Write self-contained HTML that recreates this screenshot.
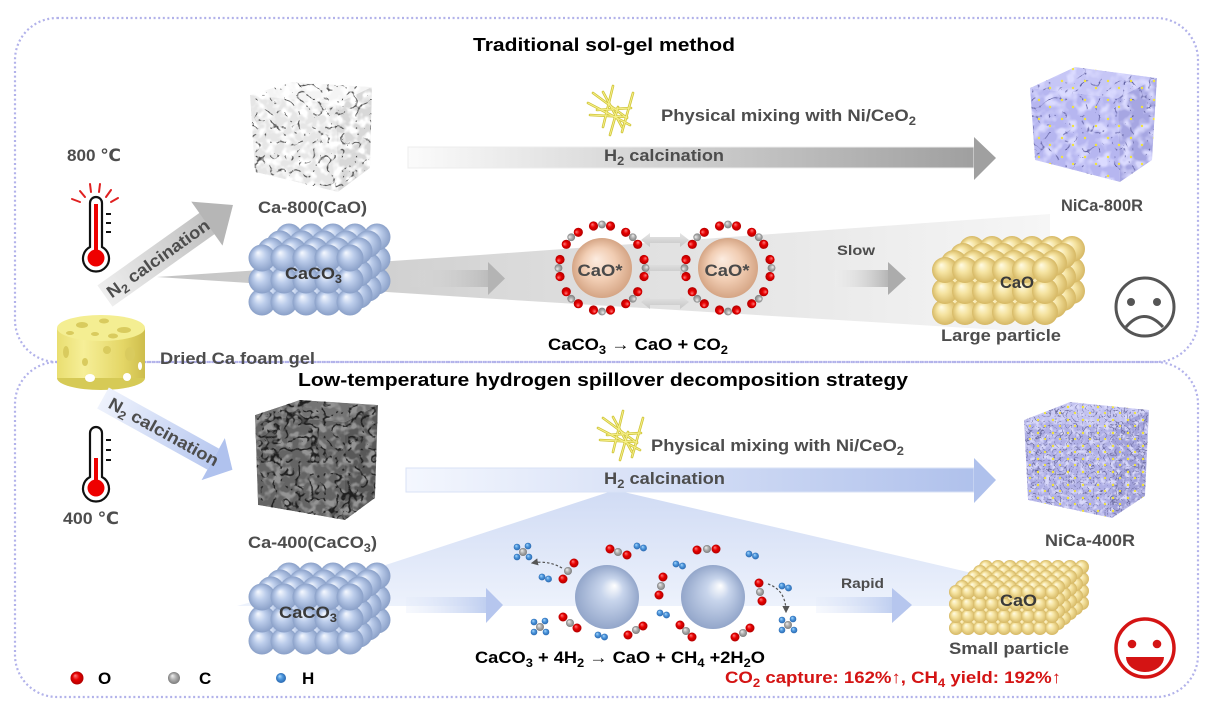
<!DOCTYPE html>
<html><head><meta charset="utf-8"><style>
html,body{margin:0;padding:0;background:#fff;}
svg{display:block;}
text{font-family:"Liberation Sans","DejaVu Sans",Arial,sans-serif;font-weight:bold;}
</style></head><body>
<svg width="1215" height="715" viewBox="0 0 1215 715" xmlns="http://www.w3.org/2000/svg">
<defs>
<radialGradient id="gSB" cx=".5" cy=".5" r=".5" fx=".35" fy=".3"><stop offset="0" stop-color="#f6f9ff"/><stop offset=".45" stop-color="#bccdeb"/><stop offset="1" stop-color="#8aa0c8"/></radialGradient>
<radialGradient id="gY" cx=".5" cy=".5" r=".5" fx=".35" fy=".3"><stop offset="0" stop-color="#fffbe4"/><stop offset=".45" stop-color="#f5e3a0"/><stop offset="1" stop-color="#d6b864"/></radialGradient>
<radialGradient id="gP" cx=".5" cy=".5" r=".5" fx=".4" fy=".35"><stop offset="0" stop-color="#fcece0"/><stop offset=".55" stop-color="#f1cdb3"/><stop offset="1" stop-color="#d5a585"/></radialGradient>
<radialGradient id="gBS" cx=".5" cy=".5" r=".5" fx=".62" fy=".32"><stop offset="0" stop-color="#ffffff"/><stop offset=".35" stop-color="#c8d5ec"/><stop offset="1" stop-color="#93a6ca"/></radialGradient>
<radialGradient id="gO" cx=".5" cy=".5" r=".5" fx=".35" fy=".3"><stop offset="0" stop-color="#ff8080"/><stop offset=".5" stop-color="#e80000"/><stop offset="1" stop-color="#b00000"/></radialGradient>
<radialGradient id="gC" cx=".5" cy=".5" r=".5" fx=".35" fy=".3"><stop offset="0" stop-color="#f2f2f2"/><stop offset=".5" stop-color="#b0b0b0"/><stop offset="1" stop-color="#7c7c7c"/></radialGradient>
<radialGradient id="gH" cx=".5" cy=".5" r=".5" fx=".35" fy=".3"><stop offset="0" stop-color="#b0dcff"/><stop offset=".5" stop-color="#4c96dc"/><stop offset="1" stop-color="#2a68b0"/></radialGradient>

<linearGradient id="gW1" gradientUnits="userSpaceOnUse" x1="157" y1="0" x2="480" y2="0"><stop offset="0" stop-color="#c4c4c4"/><stop offset="1" stop-color="#d6d6d6"/></linearGradient>
<linearGradient id="gW2" gradientUnits="userSpaceOnUse" x1="480" y1="0" x2="1050" y2="0"><stop offset="0" stop-color="#d8d8d8"/><stop offset="1" stop-color="#f6f6f6"/></linearGradient>
<linearGradient id="gBW" gradientUnits="userSpaceOnUse" x1="0" y1="490" x2="0" y2="606"><stop offset="0" stop-color="#d0dbf4"/><stop offset="1" stop-color="#edf2fc"/></linearGradient>
<linearGradient id="gH1" gradientUnits="userSpaceOnUse" x1="408" y1="0" x2="996" y2="0"><stop offset="0" stop-color="#fbfbfb"/><stop offset="1" stop-color="#9c9c9c"/></linearGradient>
<linearGradient id="gH2" gradientUnits="userSpaceOnUse" x1="406" y1="0" x2="996" y2="0"><stop offset="0" stop-color="#f4f7fe"/><stop offset="1" stop-color="#adbfeb"/></linearGradient>
<linearGradient id="gGA" gradientUnits="userSpaceOnUse" x1="406" y1="0" x2="488" y2="0"><stop offset="0" stop-color="#dcdcdc" stop-opacity="0"/><stop offset="1" stop-color="#bcbcbc"/></linearGradient>
<linearGradient id="gSA" gradientUnits="userSpaceOnUse" x1="835" y1="0" x2="888" y2="0"><stop offset="0" stop-color="#eeeeee" stop-opacity=".3"/><stop offset="1" stop-color="#b6b6b6"/></linearGradient>
<linearGradient id="gBA" gradientUnits="userSpaceOnUse" x1="406" y1="0" x2="486" y2="0"><stop offset="0" stop-color="#e4ebfa" stop-opacity=".3"/><stop offset="1" stop-color="#c0cff0"/></linearGradient>
<linearGradient id="gRA" gradientUnits="userSpaceOnUse" x1="816" y1="0" x2="892" y2="0"><stop offset="0" stop-color="#e4ebfa" stop-opacity=".3"/><stop offset="1" stop-color="#c0cff0"/></linearGradient>
<linearGradient id="gN1" gradientUnits="userSpaceOnUse" x1="0" y1="0" x2="157" y2="0"><stop offset="0" stop-color="#eeeeee"/><stop offset="1" stop-color="#b6b6b6"/></linearGradient>
<linearGradient id="gN2" gradientUnits="userSpaceOnUse" x1="0" y1="0" x2="148" y2="0"><stop offset="0" stop-color="#eef2fc"/><stop offset="1" stop-color="#b0c2ee"/></linearGradient>
<linearGradient id="gDA" x1="0" y1="0" x2="0" y2="1"><stop offset="0" stop-color="#e6e6e6"/><stop offset="1" stop-color="#c6c6c6"/></linearGradient>
<linearGradient id="gGel" x1="0" y1="0" x2="1" y2="0"><stop offset="0" stop-color="#e9de70"/><stop offset=".3" stop-color="#f6ef98"/><stop offset=".75" stop-color="#e4d666"/><stop offset="1" stop-color="#cdbd4c"/></linearGradient>

<!-- Ca-800: light highlights + thin dark crevices -->
<filter id="fL1" x="0" y="0" width="1" height="1" color-interpolation-filters="sRGB"><feTurbulence type="fractalNoise" baseFrequency="0.12" numOctaves="2" seed="2"/><feColorMatrix type="matrix" values="0 0 0 0 1  0 0 0 0 1  0 0 0 0 1  4 0 0 0 -1.7"/></filter>
<filter id="fD1" x="0" y="0" width="1" height="1" color-interpolation-filters="sRGB"><feTurbulence type="turbulence" baseFrequency="0.07" numOctaves="2" seed="7"/><feColorMatrix type="matrix" values="0 0 0 0 .3  0 0 0 0 .3  0 0 0 0 .3  -14 0 0 0 1.3"/></filter>
<!-- NiCa-800R -->
<filter id="fL2" x="0" y="0" width="1" height="1" color-interpolation-filters="sRGB"><feTurbulence type="fractalNoise" baseFrequency="0.09" numOctaves="2" seed="4"/><feColorMatrix type="matrix" values="0 0 0 0 .86  0 0 0 0 .86  0 0 0 0 1  4 0 0 0 -1.8"/></filter>
<filter id="fD2" x="0" y="0" width="1" height="1" color-interpolation-filters="sRGB"><feTurbulence type="turbulence" baseFrequency="0.06" numOctaves="2" seed="9"/><feColorMatrix type="matrix" values="0 0 0 0 .4  0 0 0 0 .4  0 0 0 0 .65  -14 0 0 0 1.1"/></filter>
<!-- Ca-400 -->
<filter id="fL3" x="0" y="0" width="1" height="1" color-interpolation-filters="sRGB"><feTurbulence type="fractalNoise" baseFrequency="0.12" numOctaves="2" seed="11"/><feColorMatrix type="matrix" values="0 0 0 0 .58  0 0 0 0 .58  0 0 0 0 .58  5 0 0 0 -2.3"/></filter>
<filter id="fD3" x="0" y="0" width="1" height="1" color-interpolation-filters="sRGB"><feTurbulence type="turbulence" baseFrequency="0.08" numOctaves="2" seed="13"/><feColorMatrix type="matrix" values="0 0 0 0 .12  0 0 0 0 .12  0 0 0 0 .12  -10 0 0 0 1.5"/></filter>
<!-- NiCa-400R -->
<filter id="fD4" x="0" y="0" width="1" height="1" color-interpolation-filters="sRGB"><feTurbulence type="turbulence" baseFrequency="0.18" numOctaves="2" seed="17"/><feColorMatrix type="matrix" values="0 0 0 0 .38  0 0 0 0 .38  0 0 0 0 .58  -9 0 0 0 1.2"/></filter>
<filter id="fL4" x="0" y="0" width="1" height="1" color-interpolation-filters="sRGB"><feTurbulence type="fractalNoise" baseFrequency="0.2" numOctaves="2" seed="21"/><feColorMatrix type="matrix" values="0 0 0 0 .85  0 0 0 0 .85  0 0 0 0 .98  4 0 0 0 -1.8"/></filter>

<pattern id="yd1" width="23" height="19" patternUnits="userSpaceOnUse"><circle cx="4" cy="5" r="1.2" fill="#f2e43a"/><circle cx="15" cy="12" r="1.2" fill="#f2e43a"/></pattern>
<pattern id="yd2" width="15" height="13" patternUnits="userSpaceOnUse"><circle cx="3" cy="4" r="1.2" fill="#f2e43a"/><circle cx="10" cy="10" r="1.1" fill="#f2e43a"/></pattern>

<clipPath id="c1"><polygon points="250,95 292,82 372,87 370,168 338,192 255,172"/></clipPath>
<clipPath id="c2"><polygon points="1030,88 1075,67 1157,78 1152,160 1120,182 1035,160"/></clipPath>
<clipPath id="c3"><polygon points="255,415 300,400 378,405 375,498 345,520 258,505"/></clipPath>
<clipPath id="c4"><polygon points="1024,420 1070,402 1149,410 1145,496 1112,518 1028,500"/></clipPath>

<circle id="sb" r="13.5" fill="url(#gSB)"/>
<g id="bRow"><use href="#sb" x="0"/><use href="#sb" x="22"/><use href="#sb" x="44"/><use href="#sb" x="66"/><use href="#sb" x="88"/></g>
<g id="bSlab"><use href="#bRow" x="27" y="-21"/><use href="#bRow" x="18" y="-14"/><use href="#bRow" x="9" y="-7"/><use href="#bRow"/></g>
<g id="bBlock"><use href="#bSlab" y="44"/><use href="#bSlab" y="22"/><use href="#bSlab"/></g>

<circle id="sy" r="13" fill="url(#gY)"/>
<g id="yRow"><use href="#sy" x="0"/><use href="#sy" x="20"/><use href="#sy" x="40"/><use href="#sy" x="60"/><use href="#sy" x="80"/><use href="#sy" x="100"/></g>
<g id="ySlab"><use href="#yRow" x="27" y="-21"/><use href="#yRow" x="18" y="-14"/><use href="#yRow" x="9" y="-7"/><use href="#yRow"/></g>
<g id="yBlock"><use href="#ySlab" y="42"/><use href="#ySlab" y="21"/><use href="#ySlab"/></g>

<circle id="ss" r="7" fill="url(#gY)"/>
<g id="sRow"><use href="#ss" x="0"/><use href="#ss" x="12"/><use href="#ss" x="24"/><use href="#ss" x="36"/><use href="#ss" x="48"/><use href="#ss" x="60"/><use href="#ss" x="72"/><use href="#ss" x="84"/><use href="#ss" x="96"/></g>
<g id="sSlab"><use href="#sRow" x="30" y="-25"/><use href="#sRow" x="24" y="-20"/><use href="#sRow" x="18" y="-15"/><use href="#sRow" x="12" y="-10"/><use href="#sRow" x="6" y="-5"/><use href="#sRow"/></g>
<g id="sBlock"><use href="#sSlab" y="36"/><use href="#sSlab" y="24"/><use href="#sSlab" y="12"/><use href="#sSlab"/></g>

<g id="co2t"><circle cx="-8.5" cy="-42" r="4.6" fill="url(#gO)"/><circle cx="0" cy="-43.5" r="3.9" fill="url(#gC)"/><circle cx="8.5" cy="-42" r="4.6" fill="url(#gO)"/></g>
<g id="ring"><use href="#co2t"/><use href="#co2t" transform="rotate(45)"/><use href="#co2t" transform="rotate(90)"/><use href="#co2t" transform="rotate(135)"/><use href="#co2t" transform="rotate(180)"/><use href="#co2t" transform="rotate(225)"/><use href="#co2t" transform="rotate(270)"/><use href="#co2t" transform="rotate(315)"/></g>
<polygon id="darr" points="0,0 9,-7 9,-3 39,-3 39,-7 48,0 39,7 39,3 9,3 9,7" fill="url(#gDA)"/>

<g id="h2"><circle cx="0" cy="0" r="3.4" fill="url(#gH)"/><circle cx="6.5" cy="2" r="3.4" fill="url(#gH)"/></g>
<g id="ch4"><circle cx="-6" cy="-5" r="3.3" fill="url(#gH)"/><circle cx="5" cy="-6" r="3.3" fill="url(#gH)"/><circle cx="0" cy="0" r="4" fill="url(#gC)"/><circle cx="-6" cy="5" r="3.3" fill="url(#gH)"/><circle cx="6" cy="5" r="3.3" fill="url(#gH)"/></g>

<g id="sticks" stroke-linecap="round">
<g stroke="#cfc438" stroke-width="2.6">
<line x1="26" y1="0" x2="16" y2="41"/><line x1="6" y1="7" x2="40" y2="32"/><line x1="16" y1="6" x2="35" y2="41"/><line x1="46" y1="7" x2="35" y2="46"/><line x1="1" y1="17" x2="43" y2="39"/><line x1="3" y1="29" x2="40" y2="31"/><line x1="31" y1="21" x2="23" y2="49"/><line x1="10" y1="24" x2="44" y2="22"/>
</g>
<g stroke="#f6f08a" stroke-width="1">
<line x1="26" y1="0" x2="16" y2="41"/><line x1="6" y1="7" x2="40" y2="32"/><line x1="16" y1="6" x2="35" y2="41"/><line x1="46" y1="7" x2="35" y2="46"/><line x1="1" y1="17" x2="43" y2="39"/><line x1="3" y1="29" x2="40" y2="31"/><line x1="31" y1="21" x2="23" y2="49"/><line x1="10" y1="24" x2="44" y2="22"/>
</g>
</g>
<marker id="ah" markerWidth="6" markerHeight="6" refX="5" refY="3" orient="auto"><path d="M0,0 L6,3 L0,6 z" fill="#555"/></marker>
</defs>

<rect width="1215" height="715" fill="#fff"/>

<!-- dotted frames -->
<rect x="15" y="18" width="1183" height="344" rx="42" fill="none" stroke="#b2b2ea" stroke-width="2.2" stroke-dasharray="2 2.6"/>
<rect x="15" y="362" width="1183" height="335" rx="42" fill="none" stroke="#b2b2ea" stroke-width="2.2" stroke-dasharray="2 2.6"/>

<!-- titles -->
<text x="473" y="51" font-size="18" fill="#000" textLength="262" lengthAdjust="spacingAndGlyphs">Traditional sol-gel method</text>
<text x="298" y="386" font-size="18" fill="#000" textLength="610" lengthAdjust="spacingAndGlyphs">Low-temperature hydrogen spillover decomposition strategy</text>

<!-- ===== TOP SECTION ===== -->
<polygon points="157,277 480,255 480,298" fill="url(#gW1)"/>
<polygon points="480,255 1050,214 1050,333 480,298" fill="url(#gW2)"/>

<rect x="408" y="147" width="566" height="21" fill="url(#gH1)" stroke="#ececec" stroke-width="1"/>
<polygon points="974,137 996,158 974,180" fill="#a0a0a0"/>
<text x="604" y="161" font-size="17" fill="#4d4d4d" textLength="120" lengthAdjust="spacingAndGlyphs">H<tspan font-size="12" dy="4">2</tspan><tspan dy="-4"> calcination</tspan></text>

<use href="#sticks" x="587" y="86"/>
<text x="661" y="121" font-size="17" fill="#4d4d4d" textLength="255" lengthAdjust="spacingAndGlyphs">Physical mixing with Ni/CeO<tspan font-size="12" dy="4">2</tspan></text>

<text x="67" y="161" font-size="17" fill="#4d4d4d" textLength="54" lengthAdjust="spacingAndGlyphs">800 ℃</text>
<g stroke="#e02020" stroke-width="2" stroke-linecap="round">
<line x1="72" y1="199" x2="80" y2="202"/><line x1="80" y1="191" x2="85" y2="197"/><line x1="90" y1="184" x2="91" y2="192"/><line x1="100" y1="184" x2="99" y2="192"/><line x1="111" y1="190" x2="106" y2="197"/><line x1="118" y1="198" x2="111" y2="202"/>
</g>
<path d="M90,247 V203 a6,6 0 0 1 12,0 V247 A13,13 0 1 1 90,247 Z" fill="#fff" stroke="#111" stroke-width="2.2"/>
<rect x="94" y="204" width="4" height="48" fill="#e00"/>
<circle cx="96" cy="258" r="8.5" fill="#e00"/>
<g stroke="#111" stroke-width="2"><line x1="106" y1="214" x2="111" y2="214"/><line x1="106" y1="223" x2="111" y2="223"/><line x1="106" y1="232" x2="111" y2="232"/></g>

<g transform="translate(105,296) rotate(-35.4)">
<rect x="0" y="-13" width="126" height="26" fill="url(#gN1)"/>
<polygon points="125,-27 157,0 125,27" fill="#b6b6b6"/>
<text x="4" y="6" font-size="17" fill="#4d4d4d" textLength="122" lengthAdjust="spacingAndGlyphs">N<tspan font-size="12" dy="4">2</tspan><tspan dy="-4"> calcination</tspan></text>
</g>

<!-- Ca-800 cube -->
<g clip-path="url(#c1)">
<polygon points="250,95 292,82 372,87 336,104" fill="#f4f4f4"/>
<polygon points="250,95 336,104 338,192 255,172" fill="#e6e6e6"/>
<polygon points="336,104 372,87 370,168 338,192" fill="#d8d8d8"/>
<rect x="248" y="80" width="126" height="114" filter="url(#fL1)"/>
<rect x="248" y="80" width="126" height="114" filter="url(#fD1)"/>
</g>
<text x="258" y="213" font-size="17" fill="#4d4d4d" textLength="109" lengthAdjust="spacingAndGlyphs">Ca-800(CaO)</text>

<!-- NiCa-800R cube -->
<g clip-path="url(#c2)">
<polygon points="1030,88 1075,67 1157,78 1118,98" fill="#c6c6f6"/>
<polygon points="1030,88 1118,98 1120,182 1035,160" fill="#b6b6f0"/>
<polygon points="1118,98 1157,78 1152,160 1120,182" fill="#a6a6e2"/>
<rect x="1028" y="65" width="131" height="119" filter="url(#fL2)"/>
<rect x="1028" y="65" width="131" height="119" filter="url(#fD2)"/>
<rect x="1028" y="65" width="131" height="119" fill="url(#yd1)"/>
</g>
<text x="1061" y="211" font-size="17" fill="#4d4d4d" textLength="82" lengthAdjust="spacingAndGlyphs">NiCa-800R</text>

<use href="#bBlock" x="262" y="258"/>
<text x="285" y="279" font-size="17" fill="#3a3a3a" textLength="57" lengthAdjust="spacingAndGlyphs">CaCO<tspan font-size="12" dy="4">3</tspan></text>

<rect x="406" y="270" width="82" height="17" fill="url(#gGA)"/>
<polygon points="488,262 505,278.5 488,295" fill="#b4b4b4"/>

<use href="#darr" x="641" y="240"/>
<use href="#darr" x="641" y="268"/>
<use href="#darr" x="641" y="302"/>
<circle cx="602" cy="268" r="30" fill="url(#gP)"/>
<circle cx="728" cy="268" r="30" fill="url(#gP)"/>
<use href="#ring" x="602" y="268"/>
<use href="#ring" x="728" y="268"/>
<text x="600" y="276" font-size="17" fill="#4a4a4a" text-anchor="middle" textLength="45" lengthAdjust="spacingAndGlyphs">CaO*</text>
<text x="727" y="276" font-size="17" fill="#4a4a4a" text-anchor="middle" textLength="45" lengthAdjust="spacingAndGlyphs">CaO*</text>
<text x="548" y="350" font-size="17" fill="#000" textLength="180" lengthAdjust="spacingAndGlyphs">CaCO<tspan font-size="12" dy="4">3</tspan><tspan dy="-4"> → CaO + CO</tspan><tspan font-size="12" dy="4">2</tspan></text>

<text x="837" y="255" font-size="14" fill="#4d4d4d" textLength="38" lengthAdjust="spacingAndGlyphs">Slow</text>
<rect x="835" y="270" width="53" height="17" fill="url(#gSA)"/>
<polygon points="888,262 906,278.5 888,295" fill="#acacac"/>

<use href="#yBlock" x="945" y="270"/>
<text x="1000" y="288" font-size="17" fill="#3a3a3a" textLength="34" lengthAdjust="spacingAndGlyphs">CaO</text>
<text x="941" y="341" font-size="17" fill="#4d4d4d" textLength="120" lengthAdjust="spacingAndGlyphs">Large particle</text>

<circle cx="1145" cy="307" r="29" fill="none" stroke="#555" stroke-width="3"/>
<circle cx="1131" cy="302" r="4" fill="#555"/>
<circle cx="1157" cy="302" r="4" fill="#555"/>
<path d="M1126,327 Q1144,306 1163,327" fill="none" stroke="#555" stroke-width="3"/>

<!-- ===== BOTTOM SECTION ===== -->
<polygon points="615,490 985,576 1000,606 237,606 364,572" fill="url(#gBW)"/>

<rect x="406" y="468" width="568" height="24" fill="url(#gH2)" stroke="#d8e2f6" stroke-width="1"/>
<polygon points="974,458 996,480 974,503" fill="#afc1ec"/>
<text x="604" y="484" font-size="17" fill="#4d4d4d" textLength="121" lengthAdjust="spacingAndGlyphs">H<tspan font-size="12" dy="4">2</tspan><tspan dy="-4"> calcination</tspan></text>

<use href="#sticks" x="597" y="411"/>
<text x="651" y="451" font-size="17" fill="#4d4d4d" textLength="253" lengthAdjust="spacingAndGlyphs">Physical mixing with Ni/CeO<tspan font-size="12" dy="4">2</tspan></text>

<!-- foam gel -->
<ellipse cx="101" cy="378" rx="44" ry="12" fill="#d6ca56"/>
<rect x="57" y="328" width="88" height="50" fill="url(#gGel)"/>
<ellipse cx="101" cy="328" rx="44" ry="13" fill="#f4ee92"/>
<g fill="#d9cb5e">
<ellipse cx="82" cy="325" rx="6" ry="3"/><ellipse cx="104" cy="321" rx="5" ry="2.5"/><ellipse cx="124" cy="330" rx="7" ry="3"/><ellipse cx="95" cy="334" rx="4" ry="2"/><ellipse cx="113" cy="336" rx="5" ry="2.5"/><ellipse cx="70" cy="333" rx="4" ry="2"/>
<ellipse cx="66" cy="352" rx="3" ry="6"/><ellipse cx="130" cy="354" rx="5" ry="7"/><ellipse cx="107" cy="350" rx="4" ry="4"/><ellipse cx="85" cy="362" rx="3" ry="4"/>
</g>
<g fill="#fff"><ellipse cx="90" cy="378" rx="5" ry="4"/><ellipse cx="127" cy="377" rx="4" ry="4"/><ellipse cx="140" cy="366" rx="2" ry="4"/></g>
<text x="160" y="364" font-size="17" fill="#4d4d4d" textLength="155" lengthAdjust="spacingAndGlyphs">Dried Ca foam gel</text>

<g transform="translate(103,398) rotate(29)">
<rect x="0" y="-12" width="126" height="24" fill="url(#gN2)"/>
<polygon points="126,-24 148,0 126,24" fill="#b0c2ee"/>
<text x="8" y="6" font-size="17" fill="#4d4d4d" textLength="123" lengthAdjust="spacingAndGlyphs">N<tspan font-size="12" dy="4">2</tspan><tspan dy="-4"> calcination</tspan></text>
</g>

<path d="M90,477 V433 a6,6 0 0 1 12,0 V477 A13,13 0 1 1 90,477 Z" fill="#fff" stroke="#111" stroke-width="2.2"/>
<rect x="94" y="458" width="4" height="24" fill="#e00"/>
<circle cx="96" cy="488" r="8.5" fill="#e00"/>
<g stroke="#111" stroke-width="2"><line x1="106" y1="440" x2="111" y2="440"/><line x1="106" y1="450" x2="111" y2="450"/><line x1="106" y1="460" x2="111" y2="460"/></g>
<text x="63" y="524" font-size="17" fill="#4d4d4d" textLength="56" lengthAdjust="spacingAndGlyphs">400 ℃</text>

<!-- Ca-400 cube -->
<g clip-path="url(#c3)">
<polygon points="255,415 300,400 378,405 345,422" fill="#747474"/>
<polygon points="255,415 345,422 345,520 258,505" fill="#646464"/>
<polygon points="345,422 378,405 375,498 345,520" fill="#585858"/>
<rect x="253" y="398" width="127" height="124" filter="url(#fL3)"/>
<rect x="253" y="398" width="127" height="124" filter="url(#fD3)"/>
</g>
<text x="248" y="548" font-size="17" fill="#4d4d4d" textLength="129" lengthAdjust="spacingAndGlyphs">Ca-400(CaCO<tspan font-size="12" dy="4">3</tspan><tspan dy="-4">)</tspan></text>

<!-- NiCa-400R cube -->
<g clip-path="url(#c4)">
<polygon points="1024,420 1070,402 1149,410 1112,428" fill="#c2c2f0"/>
<polygon points="1024,420 1112,428 1112,518 1028,500" fill="#b0b0e6"/>
<polygon points="1112,428 1149,410 1145,496 1112,518" fill="#a2a2da"/>
<rect x="1022" y="400" width="129" height="120" filter="url(#fL4)"/>
<rect x="1022" y="400" width="129" height="120" filter="url(#fD4)"/>
<rect x="1022" y="400" width="129" height="120" fill="url(#yd2)"/>
</g>
<text x="1045" y="546" font-size="17" fill="#4d4d4d" textLength="90" lengthAdjust="spacingAndGlyphs">NiCa-400R</text>

<use href="#bBlock" x="262" y="597"/>
<text x="279" y="618" font-size="17" fill="#3a3a3a" textLength="58" lengthAdjust="spacingAndGlyphs">CaCO<tspan font-size="12" dy="4">3</tspan></text>

<rect x="406" y="597" width="80" height="16" fill="url(#gBA)"/>
<polygon points="486,588 503,605 486,623" fill="#b6c6ee"/>

<circle cx="607" cy="597" r="32" fill="url(#gBS)"/>
<circle cx="713" cy="597" r="32" fill="url(#gBS)"/>
<use href="#ch4" x="523" y="552"/>
<use href="#ch4" x="540" y="627"/>
<use href="#ch4" x="788" y="625"/>
<use href="#h2" x="542" y="577"/>
<use href="#h2" x="637" y="546"/>
<use href="#h2" x="749" y="554"/>
<use href="#h2" x="676" y="564"/>
<use href="#h2" x="782" y="586"/>
<use href="#h2" x="598" y="635"/>
<use href="#h2" x="660" y="613"/>
<g>
<circle cx="574" cy="563" r="4.5" fill="url(#gO)"/><circle cx="568" cy="571" r="4" fill="url(#gC)"/><circle cx="563" cy="579" r="4.5" fill="url(#gO)"/>
<circle cx="610" cy="549" r="4.5" fill="url(#gO)"/><circle cx="618" cy="552" r="4" fill="url(#gC)"/><circle cx="627" cy="555" r="4.5" fill="url(#gO)"/>
<circle cx="697" cy="550" r="4.5" fill="url(#gO)"/><circle cx="707" cy="549" r="4" fill="url(#gC)"/><circle cx="716" cy="549" r="4.5" fill="url(#gO)"/>
<circle cx="663" cy="577" r="4.5" fill="url(#gO)"/><circle cx="661" cy="586" r="4" fill="url(#gC)"/><circle cx="659" cy="595" r="4.5" fill="url(#gO)"/>
<circle cx="759" cy="583" r="4.5" fill="url(#gO)"/><circle cx="760" cy="592" r="4" fill="url(#gC)"/><circle cx="762" cy="601" r="4.5" fill="url(#gO)"/>
<circle cx="563" cy="617" r="4.5" fill="url(#gO)"/><circle cx="570" cy="623" r="4" fill="url(#gC)"/><circle cx="577" cy="628" r="4.5" fill="url(#gO)"/>
<circle cx="628" cy="635" r="4.5" fill="url(#gO)"/><circle cx="636" cy="630" r="4" fill="url(#gC)"/><circle cx="643" cy="626" r="4.5" fill="url(#gO)"/>
<circle cx="680" cy="625" r="4.5" fill="url(#gO)"/><circle cx="686" cy="631" r="4" fill="url(#gC)"/><circle cx="692" cy="637" r="4.5" fill="url(#gO)"/>
<circle cx="735" cy="637" r="4.5" fill="url(#gO)"/><circle cx="743" cy="633" r="4" fill="url(#gC)"/><circle cx="750" cy="628" r="4.5" fill="url(#gO)"/>
</g>
<path d="M562,568 Q548,560 532,563" fill="none" stroke="#555" stroke-width="1.2" stroke-dasharray="2.5 2" marker-end="url(#ah)"/>
<path d="M768,584 Q786,590 786,612" fill="none" stroke="#555" stroke-width="1.2" stroke-dasharray="2.5 2" marker-end="url(#ah)"/>

<text x="475" y="663" font-size="17" fill="#000" textLength="290" lengthAdjust="spacingAndGlyphs">CaCO<tspan font-size="12" dy="4">3</tspan><tspan dy="-4"> + 4H</tspan><tspan font-size="12" dy="4">2</tspan><tspan dy="-4"> → CaO + CH</tspan><tspan font-size="12" dy="4">4</tspan><tspan dy="-4"> +2H</tspan><tspan font-size="12" dy="4">2</tspan><tspan dy="-4">O</tspan></text>

<text x="841" y="588" font-size="14" fill="#4d4d4d" textLength="43" lengthAdjust="spacingAndGlyphs">Rapid</text>
<rect x="816" y="597" width="76" height="16" fill="url(#gRA)"/>
<polygon points="892,588 912,605 892,623" fill="#b6c6ee"/>

<use href="#sBlock" x="956" y="592"/>
<text x="1000" y="606" font-size="17" fill="#3a3a3a" textLength="37" lengthAdjust="spacingAndGlyphs">CaO</text>
<text x="949" y="654" font-size="17" fill="#4d4d4d" textLength="120" lengthAdjust="spacingAndGlyphs">Small particle</text>

<text x="725" y="683" font-size="17" fill="#d41414" textLength="336" lengthAdjust="spacingAndGlyphs">CO<tspan font-size="12" dy="4">2</tspan><tspan dy="-4"> capture: 162%↑, CH</tspan><tspan font-size="12" dy="4">4</tspan><tspan dy="-4"> yield: 192%↑</tspan></text>

<circle cx="1145" cy="648" r="29" fill="none" stroke="#d41414" stroke-width="3.5"/>
<circle cx="1132" cy="644" r="4.3" fill="#d41414"/>
<circle cx="1157" cy="644" r="4.3" fill="#d41414"/>
<path d="M1126,657 L1164,657 A19,15 0 0 1 1126,657 Z" fill="#d41414"/>

<circle cx="77" cy="678" r="6.5" fill="url(#gO)"/>
<text x="98" y="684" font-size="17" fill="#000">O</text>
<circle cx="174" cy="678" r="6" fill="url(#gC)"/>
<text x="199" y="684" font-size="17" fill="#000">C</text>
<circle cx="281" cy="678" r="5" fill="url(#gH)"/>
<text x="302" y="684" font-size="17" fill="#000">H</text>
</svg>
</body></html>
